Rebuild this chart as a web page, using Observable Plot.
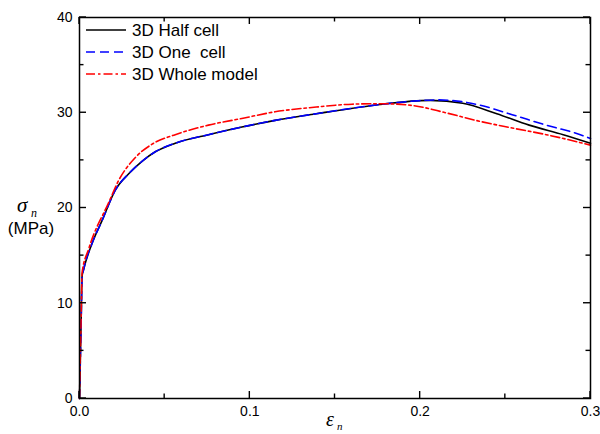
<!DOCTYPE html>
<html><head><meta charset="utf-8">
<script src="https://cdn.jsdelivr.net/npm/d3@7"></script>
<script src="https://cdn.jsdelivr.net/npm/@observablehq/plot@0.6"></script>
<style>
body{margin:0;background:#fff}
#wrap{position:relative;width:600px;height:434px}
#wrap > svg{display:block}
#ov{position:absolute;left:0;top:0;pointer-events:none}
</style>
</head><body><div id="wrap"></div>
<script>
const seriesNames = ["3D Half cell", "3D One  cell", "3D Whole model"];
const seriesColors = ["#000000", "#0000ff", "#ff0000"];
const seriesDash = [null, "9,5", "9,3,2.5,3"];

const halfX = [0, 0.0005, 0.001, 0.0015, 0.0025, 0.0074, 0.0133, 0.0211, 0.0289, 0.0367, 0.0445, 0.0562, 0.0757, 0.0953, 0.1148, 0.139, 0.178, 0.198, 0.206, 0.225, 0.245, 0.264, 0.284, 0.3];
const halfY = [0, 4.2, 8.5, 12.8, 13.6, 16.3, 18.7, 21.9, 23.6, 24.9, 25.9, 26.8, 27.7, 28.5, 29.2, 29.9, 30.9, 31.25, 31.3, 31.0, 29.9, 28.7, 27.7, 26.8];

const oneX = [0, 0.0005, 0.001, 0.0015, 0.0025, 0.0074, 0.0133, 0.0211, 0.0289, 0.0367, 0.0445, 0.0562, 0.0757, 0.0953, 0.1148, 0.139, 0.178, 0.198, 0.21, 0.225, 0.235, 0.254, 0.274, 0.294, 0.3];
const oneY = [0, 4.0, 8.3, 12.7, 13.6, 16.3, 18.7, 21.9, 23.6, 24.9, 25.9, 26.8, 27.7, 28.5, 29.2, 29.9, 30.9, 31.25, 31.35, 31.15, 30.8, 29.8, 28.7, 27.7, 27.3];

const wholeX = [0, 0.0005, 0.001, 0.0015, 0.0054, 0.0172, 0.023, 0.0328, 0.0426, 0.0562, 0.0757, 0.0953, 0.1148, 0.139, 0.16, 0.178, 0.196, 0.215, 0.235, 0.254, 0.274, 0.3];
const wholeY = [0, 4.5, 9, 13.2, 15.7, 20.6, 22.9, 25.3, 26.7, 27.7, 28.7, 29.4, 30.1, 30.6, 30.9, 30.95, 30.75, 30.0, 29.1, 28.4, 27.7, 26.6];

const xDomain = [0, 0.3];
const yDomain = [0, 40];
const xMajor = [0, 0.1, 0.2, 0.3];
const xMinor = [0.05, 0.15, 0.25];
const yMajor = [0, 10, 20, 30, 40];
const yMinor = [5, 15, 25, 35];

const seriesXs = [halfX, oneX, wholeX];
const seriesYs = [halfY, oneY, wholeY];
const tables = seriesXs.map((xs, i) => xs.map((x, j) => ({x, y: seriesYs[i][j]})));

const font = "Liberation Sans, Arial, sans-serif";
const W = 600, H = 434, mL = 79, mR = 10, mT = 17, mB = 36;
const majorLen = 7, minorLen = 4.5;

const chart = Plot.plot({
  width: W, height: H,
  marginLeft: mL, marginRight: mR, marginTop: mT, marginBottom: mB,
  x: {domain: xDomain},
  y: {domain: yDomain},
  style: {fontFamily: font, fontSize: "14px", color: "#000", background: "#fff"},
  marks: [
    Plot.axisX({anchor: "bottom", ticks: xMajor, tickSize: 0, tickPadding: 8, tickFormat: d3.format(".1f"), label: null, fontSize: 14}),
    Plot.axisY({anchor: "left", ticks: yMajor, tickSize: 0, tickPadding: 7, tickFormat: d => d, label: null, fontSize: 14}),
    ...tables.map((t, i) => Plot.line(t, {
      x: "x", y: "y", curve: "monotone-x",
      stroke: seriesColors[i], strokeWidth: 1.6,
      strokeDasharray: seriesDash[i] || undefined
    })),
    Plot.frame({stroke: "#000", strokeWidth: 1.5})
  ]
});

const wrap = document.getElementById("wrap");
wrap.appendChild(chart);

// overlay: inward ticks (through the chart's own scales), legend, axis titles
const ns = "http://www.w3.org/2000/svg";
const ov = document.createElementNS(ns, "svg");
ov.setAttribute("id", "ov");
ov.setAttribute("width", W);
ov.setAttribute("height", H);
wrap.appendChild(ov);
function el(tag, attrs, text) {
  const e = document.createElementNS(ns, tag);
  for (const k in attrs) e.setAttribute(k, attrs[k]);
  if (text != null) e.textContent = text;
  ov.appendChild(e);
  return e;
}
const sx = chart.scale("x"), sy = chart.scale("y");
const fx = sx.apply ? v => sx.apply(v) : d3.scaleLinear(sx.domain, sx.range);
const fy = sy.apply ? v => sy.apply(v) : d3.scaleLinear(sy.domain, sy.range);
const xLeft = fx(xDomain[0]), xRight = fx(xDomain[1]);
const yBottom = fy(yDomain[0]), yTop = fy(yDomain[1]);
const tk = {stroke: "#000", "stroke-width": 1.4};
function xTicks(vals, len) {
  vals.forEach(v => {
    const p = fx(v);
    el("line", {x1: p, x2: p, y1: yBottom, y2: yBottom - len, ...tk});
    el("line", {x1: p, x2: p, y1: yTop, y2: yTop + len, ...tk});
  });
}
function yTicks(vals, len) {
  vals.forEach(v => {
    const p = fy(v);
    el("line", {x1: xLeft, x2: xLeft + len, y1: p, y2: p, ...tk});
    el("line", {x1: xRight, x2: xRight - len, y1: p, y2: p, ...tk});
  });
}
xTicks(xMajor, majorLen); xTicks(xMinor, minorLen);
yTicks(yMajor, majorLen); yTicks(yMinor, minorLen);

const legY = [30, 52, 74];
seriesNames.forEach((name, i) => {
  const a = {x1: 86, x2: 126, y1: legY[i], y2: legY[i], stroke: seriesColors[i], "stroke-width": 1.6};
  if (seriesDash[i]) a["stroke-dasharray"] = seriesDash[i];
  el("line", a);
  const t = el("text", {x: 132, y: legY[i], dy: "0.36em", "font-family": font, "font-size": 17, fill: "#000"}, name);
  t.style.whiteSpace = "pre";
});
// y title
el("text", {x: 17, y: 212, "font-family": "Liberation Serif, serif", "font-size": 21, "font-style": "italic", fill: "#000"}, "σ");
el("text", {x: 31, y: 217, "font-family": "Liberation Serif, serif", "font-size": 12, "font-style": "italic", fill: "#000"}, "n");
el("text", {x: 31, y: 234, "text-anchor": "middle", "font-family": font, "font-size": 17, fill: "#000"}, "(MPa)");
// x title
el("text", {x: 326, y: 426, "font-family": "Liberation Serif, serif", "font-size": 20, "font-style": "italic", fill: "#000"}, "ε");
el("text", {x: 337, y: 430, "font-family": "Liberation Serif, serif", "font-size": 11, "font-style": "italic", fill: "#000"}, "n");
</script></body></html>
